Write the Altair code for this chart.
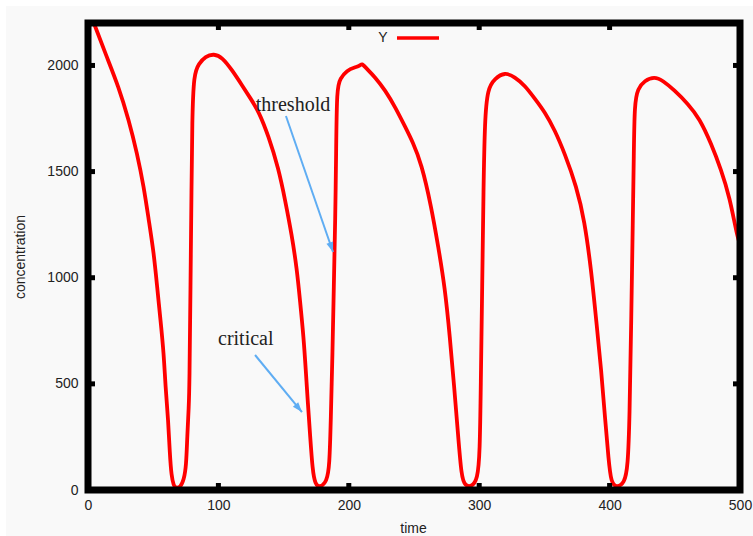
import altair as alt
import pandas as pd

# Simulated concentration Y(t)
time = [0, 5.8, 13.4, 23.6, 31.3, 37.7, 42.8, 46.6, 50.5, 53.0, 55.6, 58.1, 59.4,
        61.5, 62.7, 64.0, 65.8, 67.1, 70.9, 73.5, 75.3, 76.1, 77.3, 77.8, 78.6,
        79.4, 79.9, 81.1, 85.0, 90.1, 96.5, 102.9, 110.6, 118.3, 124.6, 130.8,
        138.4, 146.1, 151.2, 156.3, 160.1, 162.7, 165.3, 167.0, 168.6, 170.4,
        172.2, 174.2, 178.1, 183.1, 185.2, 186.2, 187.5, 188.5, 189.6, 190.3,
        190.8, 193.4, 198.5, 204.9, 208.5, 210.0, 212.6, 220.2, 227.9, 235.6,
        243.3, 249.0, 255.7, 263.3, 268.6, 273.6, 277.5, 280.8, 283.9, 286.4,
        289.0, 294.1, 298.7, 300.5, 301.2, 302.3, 303.3, 304.3, 306.4, 312.0,
        319.6, 327.3, 335.0, 342.6, 350.3, 358.0, 365.6, 374.6, 380.7, 385.9,
        389.7, 393.6, 396.6, 399.2, 401.2, 405.1, 411.4, 414.0, 415.3, 416.6,
        417.8, 418.6, 419.1, 421.6, 426.8, 434.4, 440.8, 449.8, 460.0, 469.0,
        477.9, 485.6, 492.0, 497.9, 500]
conc = [2270, 2180, 2055, 1898, 1742, 1585, 1428, 1271, 1115, 958, 801, 644, 487,
        331, 174, 64, 20, 10, 12, 48, 111, 252, 393, 487, 958,
        1428, 1742, 1961, 2008, 2043, 2055, 2039, 1977, 1905, 1845, 1785,
        1668, 1515, 1365, 1200, 1045, 885, 722, 566, 409, 252,
        95, 25, 12, 40, 111, 331, 646, 958, 1271, 1585,
        1898, 1938, 1977, 1992, 1998, 2010, 1992, 1945, 1883, 1804,
        1710, 1640, 1538, 1334, 1146, 958, 722, 487, 252, 64,
        20, 15, 48, 174, 487, 958, 1428, 1742, 1891, 1938,
        1969, 1945, 1906, 1844, 1781, 1695, 1585, 1430, 1271, 1036,
        801, 566, 331, 143, 33, 12, 30, 111, 331, 801,
        1271, 1585, 1820, 1891, 1929, 1948, 1929, 1883, 1820, 1750,
        1632, 1507, 1381, 1193, 1160]

x_ticks = [0, 100, 200, 300, 400, 500]
y_ticks = [0, 500, 1000, 1500, 2000]

# annotation labels and their arrows (data coordinates)
note_text = ["threshold", "critical"]
note_t = [157.2, 121.0]
note_v = [1787, 683]
arrow_t0 = [151.8, 128.1]
arrow_v0 = [1762, 636]
arrow_t1 = [187.9, 164.1]
arrow_v1 = [1121, 367]
arrow_angle = [161, 140]

W, H = 652, 467
FONT = "Liberation Sans"
INK = "#222222"
BLUE = "#5fadf3"

xs = alt.Scale(domain=[0, 500], nice=False, zero=False)
ys = alt.Scale(domain=[0, 2200], nice=False, zero=False)

one = pd.DataFrame({"k": [0]})
curve = pd.DataFrame({"time": time, "conc": conc})
notes = pd.DataFrame({"label": note_text, "time": note_t, "conc": note_v})
arrows = pd.DataFrame({"time": arrow_t0, "conc": arrow_v0, "time_end": arrow_t1,
                       "conc_end": arrow_v1, "ang": arrow_angle})
head_pts = pd.DataFrame({"time": arrow_t1, "conc": arrow_v1, "ang": arrow_angle})
xt = pd.DataFrame({"time": x_ticks})
yt = pd.DataFrame({"conc": y_ticks})

x_axis = alt.Axis(
    values=x_ticks, format="d", title="time", grid=False, domain=False,
    ticks=False, tickSize=0, labelPadding=8, labelFont=FONT, labelFontSize=14,
    labelColor=INK, labelFlush=False, labelOverlap=False,
    titleFont=FONT, titleFontSize=14, titleFontWeight="normal",
    titleColor=INK, titleX=325, titleY=42, titleBaseline="alphabetic",
    titleAlign="center", zindex=1)
y_axis = alt.Axis(
    values=y_ticks, format="d", title="concentration", grid=False,
    domain=False, ticks=False, tickSize=0, labelPadding=10, labelFont=FONT,
    labelFontSize=14, labelColor=INK, labelFlush=False,
    labelOverlap=False, titleFont=FONT, titleFontSize=14,
    titleFontWeight="normal", titleColor=INK, titleX=-64, titleY=H / 2,
    titleAngle=270, titleBaseline="alphabetic", titleAlign="center",
    zindex=1)


def X(field="time"):
    return alt.X(f"{field}:Q", scale=xs, axis=x_axis)


def Y(field="conc"):
    return alt.Y(f"{field}:Q", scale=ys, axis=y_axis)


panel = alt.Chart(one).mark_rect(fill="#f9f9f9").encode(
    x=alt.value(-82), x2=alt.value(665), y=alt.value(-17), y2=alt.value(513)
)

line = alt.Chart(curve).mark_line(
    color="#ff0000", strokeWidth=3.8, interpolate="basis", clip=True
).encode(x=X(), y=Y())

tick_style = dict(color="black", strokeWidth=5)
x_bottom = alt.Chart(xt).mark_rule(**tick_style).encode(
    x=X(), y=alt.value(H), y2=alt.value(H - 7))
x_top = alt.Chart(xt).mark_rule(**tick_style).encode(
    x=X(), y=alt.value(0), y2=alt.value(7))
y_left = alt.Chart(yt).mark_rule(**tick_style).encode(
    y=Y(), x=alt.value(0), x2=alt.value(7))
y_right = alt.Chart(yt).mark_rule(**tick_style).encode(
    y=Y(), x=alt.value(W), x2=alt.value(W - 7))

frame = alt.Chart(one).mark_rect(
    fillOpacity=0, stroke="black", strokeWidth=7, strokeJoin="miter"
).encode(x=alt.value(0), x2=alt.value(W), y=alt.value(0), y2=alt.value(H))

labels = alt.Chart(notes).mark_text(
    font="Liberation Serif", fontSize=20, color=INK, align="center",
    baseline="alphabetic"
).encode(x=X(), y=Y(), text="label:N")

shafts = alt.Chart(arrows).mark_rule(color=BLUE, strokeWidth=2).encode(
    x=X(), y=Y(), x2="time_end:Q", y2="conc_end:Q")

heads = alt.Chart(head_pts).mark_point(
    shape="M0,0L-0.7,2L0.7,2Z", filled=True, color=BLUE, size=100, opacity=1
).encode(x=X(), y=Y(), angle=alt.Angle("ang:Q", scale=None))

key_text = alt.Chart(one).mark_text(
    text="Y", font=FONT, fontSize=14, color=INK, align="center",
    baseline="middle"
).encode(x=alt.value(295), y=alt.value(15))
key_line = alt.Chart(one).mark_rule(color="#ff0000", strokeWidth=3.5).encode(
    x=alt.value(309), x2=alt.value(351), y=alt.value(15))

chart = alt.layer(
    panel, line, x_bottom, x_top, y_left, y_right, frame, labels, shafts,
    heads, key_text, key_line
).properties(
    width=W, height=H, background="white",
    padding={"left": 88, "top": 23, "right": 13, "bottom": 46},
    autosize=alt.AutoSizeParams(type="none")
).configure_view(strokeWidth=0)

chart.save("out.html", embed_options={"renderer": "svg", "actions": False})
